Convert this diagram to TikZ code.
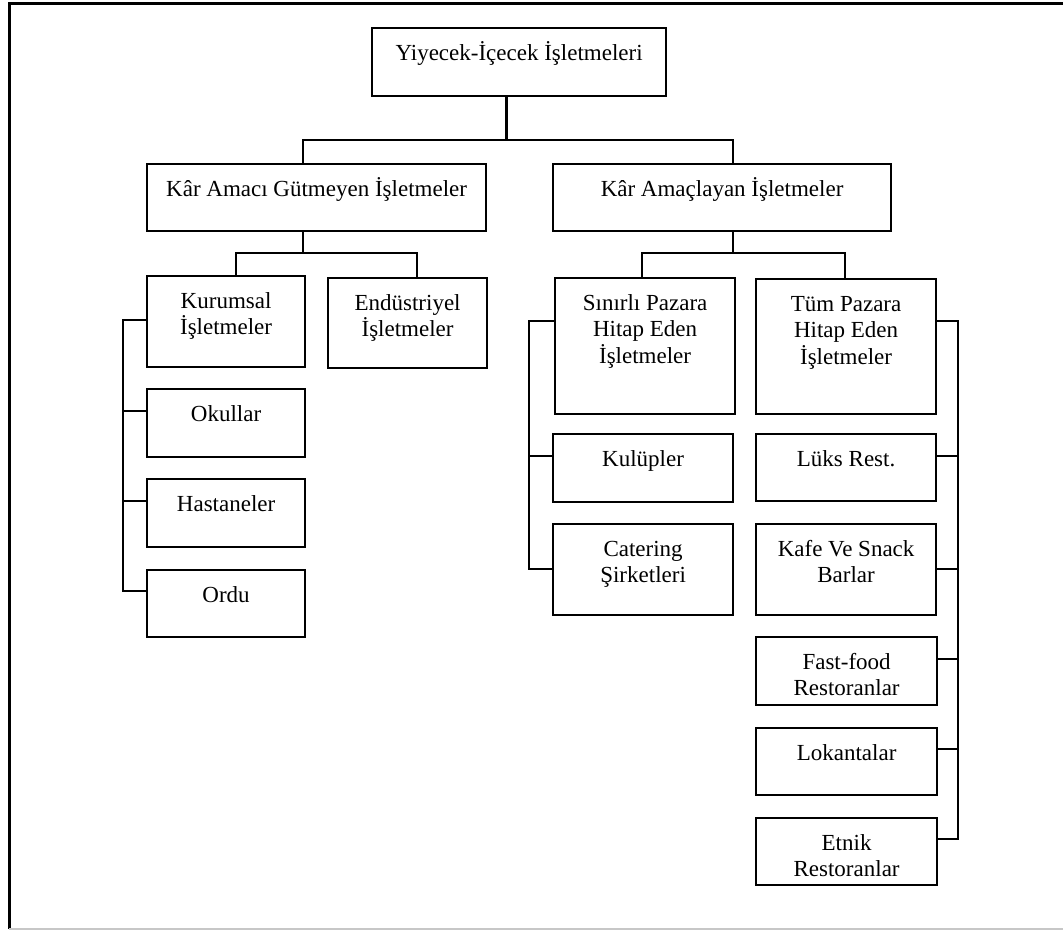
\documentclass[tikz,border=0pt]{standalone}
\usepackage{fontspec}
\setmainfont{Liberation Serif}
\newcommand{\boxtext}[3]{\parbox[t][#2pt][t]{#1pt}{\centering\rule{0pt}{32pt}#3}}
\begin{document}
\begin{tikzpicture}[x=1pt,y=-1pt,
  box/.style={draw, line width=2.2pt, inner sep=0pt, anchor=north west,
    font=\fontsize{23}{26.6}\selectfont},
  link/.style={line width=2.2pt},
  frameline/.style={line width=3pt}]
\useasboundingbox (0,0) rectangle (1063,930);

% page frame
\draw[frameline] (9,929) -- (9,3) -- (1063,3);
\draw[line width=1.5pt, black!22] (9,929) -- (1063,929);

% boxes
\node[box] (root) at (371,27)  {\boxtext{294}{68}{Yiyecek-İçecek İşletmeleri}};
\node[box] (kag)  at (146,163) {\boxtext{339}{67}{Kâr Amacı Gütmeyen İşletmeler}};
\node[box] (ka)   at (552,163) {\boxtext{338}{67}{Kâr Amaçlayan İşletmeler}};

\node[box] (kur)  at (146,275) {\boxtext{158}{91}{Kurumsal\\İşletmeler}};
\node[box] (endu) at (327,277) {\boxtext{159}{90}{Endüstriyel\\İşletmeler}};
\node[box] (oku)  at (146,388) {\boxtext{158}{68}{Okullar}};
\node[box] (has)  at (146,478) {\boxtext{158}{68}{Hastaneler}};
\node[box] (ord)  at (146,569) {\boxtext{158}{67}{Ordu}};

\node[box] (sin)  at (554,277) {\boxtext{180}{136}{Sınırlı Pazara\\Hitap Eden\\İşletmeler}};
\node[box] (tum)  at (755,278) {\boxtext{180}{135}{Tüm Pazara\\Hitap Eden\\İşletmeler}};
\node[box] (kul)  at (552,433) {\boxtext{180}{68}{Kulüpler}};
\node[box] (luk)  at (755,433) {\boxtext{180}{67}{Lüks Rest.}};
\node[box] (cat)  at (552,523) {\boxtext{180}{91}{Catering\\Şirketleri}};
\node[box] (kafe) at (755,523) {\boxtext{180}{91}{Kafe Ve Snack\\Barlar}};
\node[box] (fast) at (755,636) {\boxtext{181}{68}{Fast-food\\Restoranlar}};
\node[box] (lok)  at (755,727) {\boxtext{181}{67}{Lokantalar}};
\node[box] (etn)  at (755,817) {\boxtext{181}{67}{Etnik\\Restoranlar}};

% junction points of the connectors
\coordinate (j0)  at (506.5,140);
\coordinate (j0l) at (303,140);
\coordinate (j0r) at (733,140);
\coordinate (j1)  at (303,253);
\coordinate (j1l) at (236,253);
\coordinate (j1r) at (417,253);
\coordinate (j2)  at (733,253);
\coordinate (j2l) at (642,253);
\coordinate (j2r) at (845,253);

% rails
\coordinate (la) at (123,320);
\coordinate (lb) at (123,411);
\coordinate (lc) at (123,501);
\coordinate (ld) at (123,591);
\coordinate (ma) at (529,321);
\coordinate (mb) at (529,456);
\coordinate (mc) at (529,569);
\coordinate (ra) at (958,321);
\coordinate (rb) at (958,456);
\coordinate (rc) at (958,569);
\coordinate (rd) at (958,659);
\coordinate (re) at (958,749);
\coordinate (rf) at (958,839);

% top level
\draw[link] (root.south -| j0) -- (j0);
\draw[link] (kag.north -| j0l) -- (j0l) -- (j0r) -- (ka.north -| j0r);

% second level
\draw[link] (kag.south -| j1) -- (j1);
\draw[link] (kur.north -| j1l) -- (j1l) -- (j1r) -- (endu.north -| j1r);
\draw[link] (ka.south -| j2) -- (j2);
\draw[link] (sin.north -| j2l) -- (j2l) -- (j2r) -- (tum.north -| j2r);

% Kurumsal group
\draw[link] (kur.west |- la) -- (la) -- (ld) -- (ord.west |- ld);
\draw[link] (lb) -- (oku.west |- lb);
\draw[link] (lc) -- (has.west |- lc);

% Sinirli group
\draw[link] (sin.west |- ma) -- (ma) -- (mc) -- (cat.west |- mc);
\draw[link] (mb) -- (kul.west |- mb);

% Tum group
\draw[link] (tum.east |- ra) -- (ra) -- (rf) -- (etn.east |- rf);
\draw[link] (rb) -- (luk.east |- rb);
\draw[link] (rc) -- (kafe.east |- rc);
\draw[link] (rd) -- (fast.east |- rd);
\draw[link] (re) -- (lok.east |- re);
\end{tikzpicture}
\end{document}
